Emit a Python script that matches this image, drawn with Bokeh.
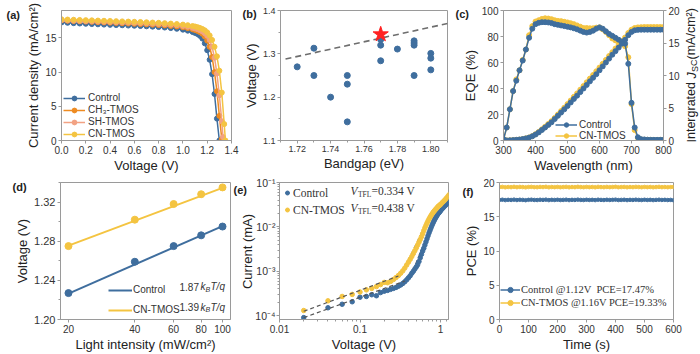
from bokeh.plotting import figure
from bokeh.layouts import row, column
from bokeh.models import (Range1d, LinearAxis, Legend, LegendItem, Label, FixedTicker,
                          PrintfTickFormatter, CustomJSTickFormatter)
from bokeh.embed import file_html
from bokeh.resources import INLINE

# ---------------- data ----------------
# (a) J-V curves
jv_v_ctrl = [0.00, 0.05, 0.10, 0.15, 0.20, 0.25, 0.30, 0.35, 0.40, 0.45, 0.50, 0.55, 0.60, 0.65, 0.70,
             0.75, 0.80, 0.85, 0.90, 0.95, 1.00, 1.04, 1.08, 1.10, 1.12, 1.14, 1.16, 1.18, 1.20, 1.22,
             1.24, 1.26, 1.28, 1.30]
jv_j_ctrl = [17.25, 17.2, 17.15, 17.1, 17.06, 17.02, 16.98, 16.94, 16.9, 16.87, 16.84, 16.8, 16.77, 16.73,
             16.69, 16.64, 16.58, 16.51, 16.43, 16.33, 16.2, 16.05, 15.85, 15.72, 15.55, 15.3, 14.9, 14.2,
             13.2, 11.8, 9.7, 6.8, 3.2, 0.0]
jv_v_ch3 = jv_v_ctrl + [1.32]
jv_j_ch3 = [17.55, 17.5, 17.46, 17.42, 17.38, 17.34, 17.3, 17.26, 17.22, 17.18, 17.14, 17.1, 17.06, 17.02,
            16.98, 16.93, 16.88, 16.82, 16.75, 16.66, 16.55, 16.42, 16.25, 16.15, 16.02, 15.85, 15.6, 15.2,
            14.6, 13.7, 12.2, 10.0, 7.2, 3.6, 0.2]
jv_v_sh = jv_v_ctrl + [1.32, 1.33]
jv_j_sh = [17.6, 17.56, 17.52, 17.48, 17.45, 17.42, 17.38, 17.35, 17.32, 17.29, 17.26, 17.23, 17.2, 17.17,
           17.13, 17.09, 17.04, 16.99, 16.92, 16.84, 16.74, 16.62, 16.47, 16.38, 16.27, 16.13, 15.94, 15.68,
           15.3, 14.7, 13.7, 12.1, 9.8, 6.6, 2.8, 0.5]
jv_v_cn = jv_v_ctrl + [1.32, 1.34, 1.35]
jv_j_cn = [17.72, 17.68, 17.65, 17.62, 17.59, 17.56, 17.53, 17.5, 17.47, 17.44, 17.41, 17.38, 17.35, 17.32,
           17.28, 17.24, 17.2, 17.15, 17.09, 17.02, 16.94, 16.85, 16.73, 16.66, 16.57, 16.45, 16.3, 16.1,
           15.8, 15.35, 14.7, 13.7, 12.3, 10.2, 7.0, 2.4, 0.0]
a_xticks = [0.0, 0.2, 0.4, 0.6, 0.8, 1.0, 1.2, 1.4]
a_yticks = [0, 5, 10, 15]

# (b) Voc vs bandgap
bandgap = [1.72, 1.73, 1.73, 1.74, 1.75, 1.75, 1.75, 1.77, 1.77, 1.77, 1.78, 1.79, 1.79, 1.79, 1.79,
           1.80, 1.80, 1.80]
voc_b = [1.270, 1.313, 1.250, 1.200, 1.250, 1.230, 1.143, 1.333, 1.320, 1.284, 1.311, 1.330, 1.325,
         1.320, 1.250, 1.301, 1.290, 1.263]
star_bg = [1.77]
star_voc = [1.345]
limit_bg = [1.713, 1.81]
limit_voc = [1.288, 1.370]
b_xticks = [1.72, 1.74, 1.76, 1.78, 1.80]
b_xminor = [1.71, 1.73, 1.75, 1.77, 1.79, 1.81]
b_yticks = [1.1, 1.2, 1.3, 1.4]
b_yminor = [1.15, 1.25, 1.35]

# (c) EQE and integrated Jsc
wl = list(range(300, 801, 10))
eqe_ctrl = [1, 10, 24, 38, 46, 54, 61.5, 70, 79, 86,
            89.5, 90.5, 91, 91, 90.8, 90.3, 89.5, 89, 88.5, 88,
            87.5, 87, 86.3, 85.5, 84.5, 83.5, 83, 83.5, 84.5, 86,
            87, 86, 84, 82, 80.5, 79, 77.5, 76, 74.5, 59,
            29, 10, 2.5, 1, 0.8, 0.6, 0.5, 0.5, 0.5, 0.5, 0.5]
eqe_cn = [1, 10, 24, 38, 47, 54, 62, 70, 81, 88,
          91.5, 92.5, 93.5, 94, 93.8, 93.3, 92.5, 92, 91.8, 91.3,
          90.8, 90.2, 89.5, 88.5, 87.5, 86.5, 86.5, 86.3, 86.3, 86.8,
          87, 85.5, 83.5, 81, 78.5, 77, 76, 74.5, 72.5, 64,
          28, 8, 2, 0.8, 0.6, 0.5, 0.5, 0.5, 0.5, 0.5, 0.5]
jsc_ctrl = [0, 0.01, 0.03, 0.06, 0.10, 0.15, 0.22, 0.32, 0.45, 0.65,
            0.92, 1.25, 1.62, 2.0, 2.4, 2.8, 3.3, 3.8, 4.3, 4.8,
            5.3, 5.85, 6.4, 6.9, 7.45, 8.0, 8.55, 9.1, 9.65, 10.2,
            10.8, 11.4, 12.0, 12.6, 13.2, 13.75, 14.3, 14.9, 15.5, 16.2,
            16.7, 16.95, 17.02, 17.05, 17.05, 17.05, 17.05, 17.05, 17.05, 17.05, 17.05]
jsc_cn = [0, 0.01, 0.03, 0.06, 0.10, 0.15, 0.22, 0.33, 0.47, 0.68,
          0.97, 1.32, 1.72, 2.12, 2.55, 2.98, 3.48, 4.0, 4.52, 5.05,
          5.6, 6.15, 6.72, 7.25, 7.82, 8.38, 8.95, 9.52, 10.08, 10.65,
          11.22, 11.8, 12.4, 13.0, 13.58, 14.15, 14.7, 15.28, 15.85, 16.55,
          17.05, 17.3, 17.4, 17.43, 17.45, 17.45, 17.45, 17.45, 17.45, 17.45, 17.45]
c_xticks = [300, 400, 500, 600, 700, 800]
c_yticks = [0, 20, 40, 60, 80, 100]
c_y2ticks = [0, 5, 10, 15, 20]

# (d) Voc vs light intensity
light = [20, 40, 60, 80, 100]
voc_d_ctrl = [1.227, 1.259, 1.275, 1.286, 1.295]
voc_d_cn = [1.275, 1.302, 1.318, 1.328, 1.335]
fit_d_x = [20, 100]
fit_d_ctrl = [1.2265, 1.2955]
fit_d_cn = [1.2755, 1.3345]
d_xticks = [20, 40, 60, 80, 100]
d_yticks = [1.20, 1.24, 1.28, 1.32]
d_yminor = [1.22, 1.26, 1.30, 1.34]

# (e) SCLC
sclc_v = [0.02, 0.04, 0.06, 0.08, 0.10, 0.12, 0.14, 0.16, 0.18, 0.20,
          0.22, 0.24, 0.26, 0.28, 0.30, 0.32, 0.34, 0.36, 0.38, 0.40,
          0.42, 0.44, 0.46, 0.48, 0.50, 0.52, 0.54, 0.56, 0.58, 0.60,
          0.62, 0.64, 0.66, 0.68, 0.70, 0.72, 0.74, 0.76, 0.78, 0.80,
          0.82, 0.84, 0.86, 0.88, 0.90, 0.92, 0.94, 0.96, 0.98, 1.00,
          1.04, 1.08, 1.12, 1.16, 1.20, 1.24, 1.28]
sclc_ctrl = [9.0e-5, 1.5e-4, 1.8e-4, 2.05e-4, 2.6e-4, 2.7e-4, 2.95e-4, 2.8e-4, 3.3e-4, 3.55e-4,
             3.7e-4, 3.9e-4, 4.1e-4, 4.3e-4, 4.6e-4, 4.9e-4, 5.3e-4, 5.8e-4, 6.4e-4, 7.1e-4,
             7.9e-4, 9.0e-4, 1.0e-3, 1.12e-3, 1.25e-3, 1.4e-3, 1.65e-3, 2.0e-3, 2.4e-3, 2.85e-3,
             3.3e-3, 3.9e-3, 4.6e-3, 5.4e-3, 6.3e-3, 7.3e-3, 8.3e-3, 9.4e-3, 1.06e-2, 1.18e-2,
             1.3e-2, 1.42e-2, 1.54e-2, 1.66e-2, 1.78e-2, 1.9e-2, 2.0e-2, 2.1e-2, 2.2e-2, 2.3e-2,
             2.5e-2, 2.7e-2, 2.9e-2, 3.1e-2, 3.3e-2, 3.55e-2, 3.85e-2]
sclc_cn = [1.3e-4, 2.15e-4, 2.7e-4, 3.0e-4, 3.4e-4, 3.8e-4, 4.1e-4, 4.5e-4, 5.0e-4, 5.6e-4,
           5.5e-4, 5.9e-4, 6.5e-4, 7.2e-4, 8.0e-4, 9.0e-4, 1.02e-3, 1.18e-3, 1.38e-3, 1.6e-3,
           1.85e-3, 2.15e-3, 2.5e-3, 2.9e-3, 3.35e-3, 3.9e-3, 4.5e-3, 5.2e-3, 6.0e-3, 7.0e-3,
           8.2e-3, 9.5e-3, 1.08e-2, 1.22e-2, 1.36e-2, 1.5e-2, 1.64e-2, 1.78e-2, 1.92e-2, 2.05e-2,
           2.18e-2, 2.3e-2, 2.42e-2, 2.54e-2, 2.66e-2, 2.78e-2, 2.9e-2, 3.0e-2, 3.1e-2, 3.2e-2,
           3.45e-2, 3.7e-2, 3.95e-2, 4.25e-2, 4.55e-2, 4.9e-2, 5.3e-2]
fit_e_ctrl_lo_v = [0.02, 0.36]
fit_e_ctrl_lo_i = [9.0e-5, 6.0e-4]
fit_e_cn_lo_v = [0.02, 0.30]
fit_e_cn_lo_i = [1.25e-4, 7.8e-4]
fit_e_ctrl_hi_v = [0.42, 0.80]
fit_e_ctrl_hi_i = [7.5e-4, 1.2e-2]
fit_e_cn_hi_v = [0.33, 0.72]
fit_e_cn_hi_i = [9.0e-4, 1.6e-2]
e_xticks = [0.01, 0.1, 1]
e_xminor = [0.02, 0.03, 0.04, 0.05, 0.06, 0.07, 0.08, 0.09, 0.2, 0.3, 0.4, 0.5, 0.6, 0.7, 0.8, 0.9, 1.2]
e_yticks = [1e-4, 1e-3, 1e-2, 1e-1]
e_yminor = [2e-4, 3e-4, 4e-4, 5e-4, 6e-4, 7e-4, 8e-4, 9e-4, 2e-3, 3e-3, 4e-3, 5e-3, 6e-3, 7e-3, 8e-3,
            9e-3, 2e-2, 3e-2, 4e-2, 5e-2, 6e-2, 7e-2, 8e-2, 9e-2]

# (f) steady-state PCE
time_s = list(range(0, 601, 10))
pce_ctrl = [17.46, 17.49, 17.43, 17.47, 17.45, 17.50, 17.44, 17.48, 17.46, 17.42,
            17.47, 17.49, 17.45, 17.44, 17.48, 17.46, 17.50, 17.43, 17.47, 17.45,
            17.48, 17.44, 17.46, 17.49, 17.43, 17.47, 17.45, 17.50, 17.46, 17.44,
            17.48, 17.45, 17.47, 17.43, 17.49, 17.46, 17.44, 17.48, 17.45, 17.47,
            17.50, 17.44, 17.46, 17.48, 17.43, 17.47, 17.45, 17.49, 17.46, 17.44,
            17.48, 17.45, 17.47, 17.43, 17.46, 17.49, 17.45, 17.47, 17.44, 17.46, 17.41]
pce_cn = [19.33, 19.36, 19.30, 19.34, 19.32, 19.37, 19.31, 19.35, 19.33, 19.29,
          19.34, 19.36, 19.32, 19.31, 19.35, 19.33, 19.37, 19.30, 19.34, 19.32,
          19.35, 19.31, 19.33, 19.36, 19.30, 19.34, 19.32, 19.37, 19.33, 19.31,
          19.35, 19.32, 19.34, 19.30, 19.36, 19.33, 19.31, 19.35, 19.32, 19.34,
          19.37, 19.31, 19.33, 19.35, 19.30, 19.34, 19.32, 19.36, 19.33, 19.31,
          19.35, 19.32, 19.34, 19.30, 19.33, 19.36, 19.32, 19.34, 19.31, 19.33, 19.35]
f_xticks = [0, 100, 200, 300, 400, 500, 600]
f_yticks = [0, 5, 10, 15, 20]

# ---------------- style ----------------
SANS = "Liberation Sans"
SERIF = "Liberation Serif"
BLUE = "#3F6E9E"
GOLD = "#F4C441"
ORANGE = "#EE8B21"
SALMON = "#F2A283"
AXIS = "#9A9A9A"
TXT = "#333333"
DARK = "#222222"


def style_axis(ax, tick_size="10px", label_size="13px"):
    ax.axis_line_color = AXIS
    ax.major_tick_line_color = AXIS
    ax.minor_tick_line_color = AXIS
    ax.major_tick_out = 3
    ax.major_tick_in = 0
    ax.minor_tick_out = 2
    ax.minor_tick_in = 0
    ax.major_label_text_font = SANS
    ax.major_label_text_font_size = tick_size
    ax.major_label_text_color = TXT
    ax.major_label_standoff = 2
    ax.axis_label_text_font = SANS
    ax.axis_label_text_font_size = label_size
    ax.axis_label_text_font_style = "normal"
    ax.axis_label_text_color = DARK
    ax.axis_label_standoff = 1


def make_fig(w, h, borders, xr, yr, x_type="linear", y_type="linear", tick_size="10px"):
    l, r, t, b = borders
    p = figure(width=w, height=h, x_range=xr, y_range=yr, x_axis_type=x_type, y_axis_type=y_type,
               output_backend="svg", toolbar_location=None,
               min_border_left=l, min_border_right=r, min_border_top=t, min_border_bottom=b)
    p.grid.visible = False
    p.outline_line_color = AXIS
    p.outline_line_width = 1
    for ax in p.axis:
        style_axis(ax, tick_size)
    return p


def add_legend(p, items, loc, font, size, lh, gw, standoff):
    p.add_layout(Legend(items=items, location=loc, label_text_font=font, label_text_font_size=size,
                        label_text_color=TXT, label_height=lh, glyph_height=lh, glyph_width=gw,
                        label_standoff=standoff, spacing=0, padding=0, margin=0,
                        border_line_alpha=0, background_fill_alpha=0))


# ---------------- (a) ----------------
pa = make_fig(240, 175, (61, 9, 5, 31), Range1d(0, 1.4), Range1d(0, 19))
pa.xaxis.ticker = FixedTicker(ticks=a_xticks)
pa.xaxis.formatter = PrintfTickFormatter(format="%.1f")
pa.yaxis.ticker = FixedTicker(ticks=a_yticks)
pa.xaxis.axis_label = "Voltage (V)"
pa.yaxis.axis_label = "Current density (mA/cm²)"
items = []
for name, vv, jj, col in [("Control", jv_v_ctrl, jv_j_ctrl, BLUE), ("CH₃-TMOS", jv_v_ch3, jv_j_ch3, ORANGE),
                          ("SH-TMOS", jv_v_sh, jv_j_sh, SALMON), ("CN-TMOS", jv_v_cn, jv_j_cn, GOLD)]:
    ln = pa.line(vv, jj, line_color=col, line_width=1.5)
    sc = pa.scatter(vv, jj, marker="circle", size=5, fill_color=col, line_color=col)
    items.append(LegendItem(label=name, renderers=[ln, sc]))
add_legend(pa, items, (2, 0.5), SANS, "10px", 12, 22, 3)

# ---------------- (b) ----------------
pb = make_fig(215, 175, (39, 8, 7, 28), Range1d(1.71, 1.81), Range1d(1.1, 1.4), tick_size="9px")
pb.xaxis.ticker = FixedTicker(ticks=b_xticks, minor_ticks=b_xminor)
pb.xaxis.formatter = PrintfTickFormatter(format="%.2f")
pb.yaxis.ticker = FixedTicker(ticks=b_yticks, minor_ticks=b_yminor)
pb.yaxis.formatter = PrintfTickFormatter(format="%.1f")
pb.xaxis.axis_label = "Bandgap (eV)"
pb.yaxis.axis_label = "Voltage (V)"
pb.line(limit_bg, limit_voc, line_color="#6E6E6E", line_width=1.6, line_dash="6 4")
pb.scatter(bandgap, voc_b, marker="circle", size=6, fill_color=BLUE, line_color=BLUE)
pb.scatter(star_bg, star_voc, marker="star", size=16, fill_color="#FF2222", line_color="#FF2222")

# ---------------- (c) ----------------
pc = make_fig(245, 175, (48, 37, 10, 34), Range1d(300, 800), Range1d(0, 100))
pc.extra_y_ranges = {"jsc": Range1d(0, 20)}
ax_r = LinearAxis(y_range_name="jsc", ticker=FixedTicker(ticks=c_y2ticks))
style_axis(ax_r)
pc.add_layout(ax_r, "right")
pc.xaxis.ticker = FixedTicker(ticks=c_xticks)
pc.yaxis[0].ticker = FixedTicker(ticks=c_yticks)
pc.xaxis.axis_label = "Wavelength (nm)"
pc.yaxis[0].axis_label = "EQE (%)"
l_cn = pc.line(wl, eqe_cn, line_color=GOLD, line_width=1.5)
s_cn = pc.scatter(wl, eqe_cn, marker="circle", size=5, fill_color=GOLD, line_color=GOLD)
pc.line(wl, jsc_cn, line_color=GOLD, line_width=1.5, y_range_name="jsc")
pc.scatter(wl, jsc_cn, marker="circle", size=5, fill_color=GOLD, line_color=GOLD, y_range_name="jsc")
l_ct = pc.line(wl, eqe_ctrl, line_color=BLUE, line_width=1.5)
s_ct = pc.scatter(wl, eqe_ctrl, marker="circle", size=5, fill_color=BLUE, line_color=BLUE)
pc.line(wl, jsc_ctrl, line_color=BLUE, line_width=1.5, y_range_name="jsc")
pc.scatter(wl, jsc_ctrl, marker="circle", size=5, fill_color=BLUE, line_color=BLUE, y_range_name="jsc")
add_legend(pc, [LegendItem(label="Control", renderers=[l_ct, s_ct]),
                LegendItem(label="CN-TMOS", renderers=[l_cn, s_cn])], (52, -1), SANS, "10px", 11, 22, 2)

# ---------------- (d) ----------------
pdd = make_fig(240, 179, (60, 10, 6, 35), Range1d(18.4, 108.7), Range1d(1.20, 1.34), x_type="log")
pdd.xaxis.ticker = FixedTicker(ticks=d_xticks)
pdd.xaxis.formatter = PrintfTickFormatter(format="%d")
pdd.yaxis.ticker = FixedTicker(ticks=d_yticks, minor_ticks=d_yminor)
pdd.yaxis.formatter = PrintfTickFormatter(format="%.2f")
pdd.yaxis.major_label_text_font_size = "11px"
pdd.xaxis.axis_label = "Light intensity (mW/cm²)"
pdd.yaxis.axis_label = "Voltage (V)"
fl_ct = pdd.line(fit_d_x, fit_d_ctrl, line_color=BLUE, line_width=2)
pdd.scatter(light, voc_d_ctrl, marker="circle", size=7, fill_color=BLUE, line_color=BLUE)
fl_cn = pdd.line(fit_d_x, fit_d_cn, line_color=GOLD, line_width=2)
pdd.scatter(light, voc_d_cn, marker="circle", size=7, fill_color=GOLD, line_color=GOLD)
add_legend(pdd, [LegendItem(label="Control", renderers=[fl_ct]),
                 LegendItem(label="CN-TMOS", renderers=[fl_cn])], (48, -0.5), SANS, "10px", 20, 24, 1)

# ---------------- (e) ----------------
pe = make_fig(215, 179, (39, 7, 6, 33), Range1d(0.01, 1.257), Range1d(8.16e-5, 0.1),
              x_type="log", y_type="log")
pe.xaxis.ticker = FixedTicker(ticks=e_xticks, minor_ticks=e_xminor)
pe.xaxis.formatter = CustomJSTickFormatter(code="return tick.toString();")
pe.yaxis.ticker = FixedTicker(ticks=e_yticks, minor_ticks=e_yminor)
pe.yaxis.formatter = CustomJSTickFormatter(code="""
const e = Math.round(Math.log10(tick));
const sup = {'-': '\u207b', '0': '\u2070', '1': '\u00b9', '2': '\u00b2', '3': '\u00b3', '4': '\u2074',
             '5': '\u2075', '6': '\u2076', '7': '\u2077', '8': '\u2078', '9': '\u2079'};
return '10' + String(e).split('').map(c => sup[c]).join('');
""")
pe.yaxis.major_label_text_font_size = "10.5px"
pe.yaxis.major_label_standoff = 1
pe.xaxis.axis_label = "Voltage (V)"
for fv, fi in [(fit_e_ctrl_hi_v, fit_e_ctrl_hi_i), (fit_e_cn_hi_v, fit_e_cn_hi_i)]:
    pe.line(fv, fi, line_color="#555555", line_width=1.2, line_dash="4 3")
se_ct = pe.scatter(sclc_v, sclc_ctrl, marker="circle", size=4.5, fill_color=BLUE, line_color=BLUE)
se_cn = pe.scatter(sclc_v, sclc_cn, marker="circle", size=4.5, fill_color=GOLD, line_color=GOLD)
for fv, fi in [(fit_e_ctrl_lo_v, fit_e_ctrl_lo_i), (fit_e_cn_lo_v, fit_e_cn_lo_i)]:
    pe.line(fv, fi, line_color="#555555", line_width=1.2, line_dash="4 3")
add_legend(pe, [LegendItem(label="Control", renderers=[se_ct]),
                LegendItem(label="CN-TMOS", renderers=[se_cn])], (3, 101), SERIF, "11.5px", 17, 10, 1)

# ---------------- (f) ----------------
pf = make_fig(245, 179, (44, 27, 7, 33), Range1d(0, 600), Range1d(0, 20))
pf.xaxis.ticker = FixedTicker(ticks=f_xticks)
pf.yaxis.ticker = FixedTicker(ticks=f_yticks)
pf.xaxis.axis_label = "Time (s)"
pf.yaxis.axis_label = "PCE (%)"
lf_ct = pf.line(time_s, pce_ctrl, line_color=BLUE, line_width=1.5)
sf_ct = pf.scatter(time_s, pce_ctrl, marker="circle", size=3.5, fill_color=BLUE, line_color=BLUE)
lf_cn = pf.line(time_s, pce_cn, line_color=GOLD, line_width=1.5)
sf_cn = pf.scatter(time_s, pce_cn, marker="circle", size=3.5, fill_color=GOLD, line_color=GOLD)
add_legend(pf, [LegendItem(label="Control @1.12V  PCE=17.47%", renderers=[lf_ct, sf_ct]),
                LegendItem(label="CN-TMOS @1.16V PCE=19.33%", renderers=[lf_cn, sf_cn])],
           (1, 10.5), SERIF, "10.5px", 13, 20, 1)

# ---------------- transparent overlay for free-standing texts ----------------
ov = figure(width=700, height=354, x_range=Range1d(0, 700), y_range=Range1d(0, 354),
            output_backend="svg", toolbar_location=None, min_border=0,
            x_axis_location=None, y_axis_location=None)
ov.grid.visible = False
ov.outline_line_color = None
ov.background_fill_alpha = 0
ov.border_fill_alpha = 0
ov.margin = (-354, 0, 0, 0)


def add_text(x, y, text, size, font=SANS, style="normal", color=TXT, angle=0.0, align="left"):
    ov.add_layout(Label(x=x, y=y, x_units="canvas", y_units="canvas", text=text, text_font=font,
                        text_font_size=f"{size}px", text_font_style=style, text_color=color,
                        angle=angle, text_align=align, text_baseline="middle"))


# panel letters
for x, y, t in [(6, 14, "(a)"), (242, 13, "(b)"), (455, 13, "(c)"),
                (12, 186, "(d)"), (233, 189, "(e)"), (462, 191, "(f)")]:
    add_text(x, y, t, 11, style="bold", color=DARK)

ang = 1.5708
# (c) right axis title with subscript
add_text(691, 142, "Intergrated ", 12.5, angle=ang, color=DARK)
add_text(691, 78, "J", 12.5, style="italic", angle=ang, color=DARK)
add_text(694, 71.5, "SC", 9, angle=ang, color=DARK)
add_text(691, 59, " (mA/cm²)", 12.5, angle=ang, color=DARK)

# (e) y axis title
add_text(247, 251, "Current (mA)", 13, angle=ang, color=DARK, align="center")

# (d) ideality factors
for yy, num in [(286, "1.87"), (306.5, "1.39")]:
    add_text(179, yy, num, 10)
    add_text(200, yy, "k", 10, style="italic")
    add_text(205, yy + 2.5, "B", 7, style="italic")
    add_text(210, yy, "T/q", 10, style="italic")

# (e) trap-filled limit voltages
for yy, val in [(190, "=0.334 V"), (207.3, "=0.438 V")]:
    add_text(350, yy, "V", 11.5, font=SERIF, style="italic")
    add_text(357.5, yy + 3.5, "TFL", 7.5, font=SERIF)
    add_text(371, yy, val, 11.5, font=SERIF)

layout = column(row(pa, pb, pc), row(pdd, pe, pf), ov)
open("out.html", "w").write(file_html(layout, INLINE))
